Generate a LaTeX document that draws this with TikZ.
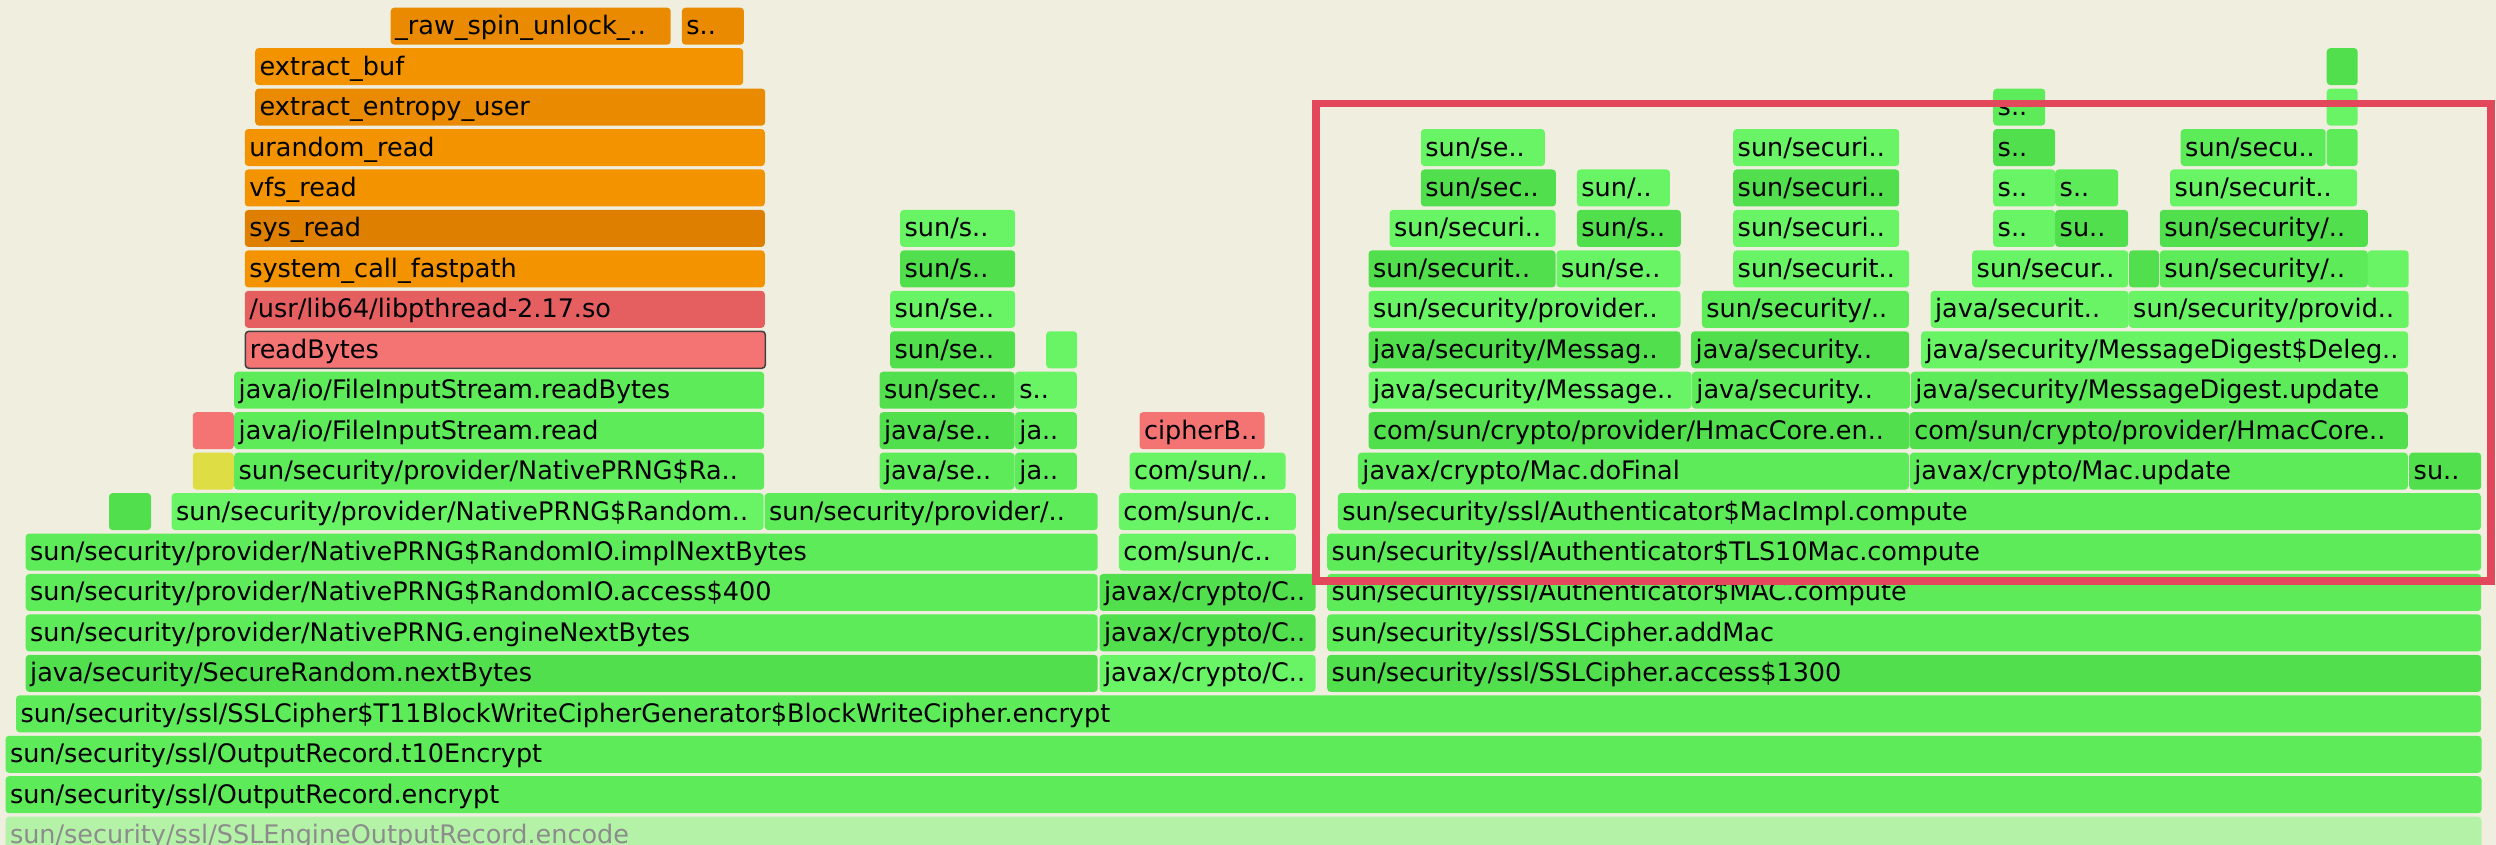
\documentclass[tikz,border=0pt]{standalone}
\usepackage{fontspec}
\setmainfont{DejaVu Sans}
\usepackage{tikz}
\definecolor{bgcol}{HTML}{F0EFDF}
\definecolor{gA}{HTML}{5EEB59}
\definecolor{gB}{HTML}{52DF4D}
\definecolor{gC}{HTML}{69F465}
\definecolor{gL}{HTML}{B4F3A7}
\definecolor{oA}{HTML}{F39300}
\definecolor{oB}{HTML}{E98A00}
\definecolor{oC}{HTML}{DF7F00}
\definecolor{rA}{HTML}{E55F60}
\definecolor{rB}{HTML}{F47474}
\definecolor{yA}{HTML}{DFDD44}
\definecolor{hilite}{HTML}{E2475B}
\newcommand\flamefont{\fontsize{25.5}{27}\selectfont}

\begin{document}
\begin{tikzpicture}[x=1pt,y=40.45pt,
  fr/.style={rectangle,rounded corners=3.5pt,anchor=west,minimum height=37pt,inner xsep=4.5pt,inner ysep=0pt,text height=21pt,text depth=4pt,align=left,font=\flamefont,fill=#1},
  wd/.code={\pgfmathsetmacro\frw{#1-9}\tikzset{minimum width=#1pt,text width=\frw pt}},
  hl/.style={draw=hilite,line width=7.5pt}]
\fill[bgcol] (0,-0.24227) rectangle (2496,20.6477);
\useasboundingbox (0,-0.24227) rectangle (2496,20.6477);
% bottom rows
\node[fr=gL,wd=2476,text=black!45] (r0a) at (5.3,0) {sun/security/ssl/SSLEngineOutputRecord.encode};
\node[fr=gA,wd=2476] (r1a) at (5.3,1) {sun/security/ssl/OutputRecord.encrypt};
\node[fr=gA,wd=2476] (r2a) at (5.3,2) {sun/security/ssl/OutputRecord.t10Encrypt};
\node[fr=gA,wd=2465] (r3a) at (15.9,3) {sun/security/ssl/SSLCipher\$T11BlockWriteCipherGenerator\$BlockWriteCipher.encrypt};
\node[fr=gB,wd=1072] (r4a) at (25.5,4) {java/security/SecureRandom.nextBytes};
\node[fr=gC,wd=216] (r4b) at (1099.3,4) {javax/crypto/C..};
\node[fr=gB,wd=1154] (r4c) at (1327,4) {sun/security/ssl/SSLCipher.access\$1300};
\node[fr=gA,wd=1072] (r5a) at (25.5,5) {sun/security/provider/NativePRNG.engineNextBytes};
\node[fr=gB,wd=216] (r5b) at (1099.3,5) {javax/crypto/C..};
\node[fr=gA,wd=1154] (r5c) at (1327,5) {sun/security/ssl/SSLCipher.addMac};
\node[fr=gA,wd=1072] (r6a) at (25.5,6) {sun/security/provider/NativePRNG\$RandomIO.access\$400};
\node[fr=gB,wd=216] (r6b) at (1099.3,6) {javax/crypto/C..};
\node[fr=gA,wd=1154] (r6c) at (1327,6) {sun/security/ssl/Authenticator\$MAC.compute};
\node[fr=gA,wd=1072] (r7a) at (25.5,7) {sun/security/provider/NativePRNG\$RandomIO.implNextBytes};
\node[fr=gC,wd=177] (r7b) at (1118.7,7) {com/sun/c..};
\node[fr=gA,wd=1154] (r7c) at (1327,7) {sun/security/ssl/Authenticator\$TLS10Mac.compute};
\node[fr=gB,wd=42] (r8a) at (108.8,8) {};
\node[fr=gC,wd=592] (r8b) at (171.4,8) {sun/security/provider/NativePRNG\$Random..};
\node[fr=gA,wd=333] (r8c) at (764.5,8) {sun/security/provider/..};
\node[fr=gC,wd=177] (r8d) at (1118.7,8) {com/sun/c..};
\node[fr=gA,wd=1143] (r8e) at (1337.7,8) {sun/security/ssl/Authenticator\$MacImpl.compute};
% middle rows
\node[fr=yA,wd=41] (r9a) at (192.6,9) {};
\node[fr=gA,wd=530] (r9b) at (234,9) {sun/security/provider/NativePRNG\$Ra..};
\node[fr=gA,wd=135] (r9c) at (879.3,9) {java/se..};
\node[fr=gA,wd=62] (r9d) at (1014.7,9) {ja..};
\node[fr=gC,wd=156] (r9e) at (1129.3,9) {com/sun/..};
\node[fr=gA,wd=551] (r9f) at (1357.7,9) {javax/crypto/Mac.doFinal};
\node[fr=gA,wd=498] (r9g) at (1909.6,9) {javax/crypto/Mac.update};
\node[fr=gB,wd=72] (r9h) at (2409,9) {su..};
\node[fr=rB,wd=41] (r10a) at (192.6,10) {};
\node[fr=gA,wd=530] (r10b) at (234,10) {java/io/FileInputStream.read};
\node[fr=gB,wd=135] (r10c) at (879.3,10) {java/se..};
\node[fr=gA,wd=62] (r10d) at (1014.7,10) {ja..};
\node[fr=rB,wd=125] (r10e) at (1139.3,10) {cipherB..};
\node[fr=gB,wd=541] (r10f) at (1368.3,10) {com/sun/crypto/provider/HmacCore.en..};
\node[fr=gB,wd=498] (r10g) at (1909.6,10) {com/sun/crypto/provider/HmacCore..};
\node[fr=gA,wd=530] (r11a) at (234,11) {java/io/FileInputStream.readBytes};
\node[fr=gB,wd=135] (r11b) at (879.3,11) {sun/sec..};
\node[fr=gC,wd=62] (r11c) at (1014.7,11) {s..};
\node[fr=gC,wd=323] (r11d) at (1368.3,11) {java/security/Message..};
\node[fr=gA,wd=218] (r11e) at (1691.7,11) {java/security..};
\node[fr=gA,wd=497] (r11f) at (1910.6,11) {java/security/MessageDigest.update};
\node[fr=rB,wd=520,draw=black!75,line width=1.5pt] (r12a) at (244.6,12) {readBytes};
\node[fr=gB,wd=125] (r12b) at (890,12) {sun/se..};
\node[fr=gC,wd=31] (r12c) at (1046,12) {};
\node[fr=gB,wd=312] (r12d) at (1368.3,12) {java/security/Messag..};
\node[fr=gB,wd=218] (r12e) at (1691,12) {java/security..};
\node[fr=gC,wd=487] (r12f) at (1920.9,12) {java/security/MessageDigest\$Deleg..};
\node[fr=rA,wd=520] (r13a) at (244.6,13) {/usr/lib64/libpthread-2.17.so};
\node[fr=gC,wd=125] (r13b) at (890,13) {sun/se..};
\node[fr=gC,wd=312] (r13c) at (1368.3,13) {sun/security/provider..};
\node[fr=gA,wd=207] (r13d) at (1701.7,13) {sun/security/..};
\node[fr=gC,wd=198] (r13e) at (1930.4,13) {java/securit..};
\node[fr=gC,wd=280] (r13f) at (2128.5,13) {sun/security/provid..};
% top rows
\node[fr=oA,wd=520] (r14a) at (244.6,14) {system\_call\_fastpath};
\node[fr=gB,wd=115] (r14b) at (900,14) {sun/s..};
\node[fr=gB,wd=187] (r14c) at (1368.3,14) {sun/securit..};
\node[fr=gC,wd=124] (r14d) at (1556.3,14) {sun/se..};
\node[fr=gC,wd=176] (r14e) at (1733,14) {sun/securit..};
\node[fr=gC,wd=156] (r14f) at (1972,14) {sun/secur..};
\node[fr=gB,wd=30] (r14g) at (2128.8,14) {};
\node[fr=gA,wd=208] (r14h) at (2159.6,14) {sun/security/..};
\node[fr=gC,wd=41] (r14i) at (2367.5,14) {};
\node[fr=oC,wd=520] (r15a) at (244.6,15) {sys\_read};
\node[fr=gC,wd=115] (r15b) at (900,15) {sun/s..};
\node[fr=gC,wd=166] (r15c) at (1389.3,15) {sun/securi..};
\node[fr=gB,wd=104] (r15d) at (1576.7,15) {sun/s..};
\node[fr=gC,wd=166] (r15e) at (1733,15) {sun/securi..};
\node[fr=gC,wd=62] (r15f) at (1993,15) {s..};
\node[fr=gB,wd=73] (r15g) at (2055,15) {su..};
\node[fr=gB,wd=208] (r15h) at (2159.6,15) {sun/security/..};
\node[fr=oA,wd=520] (r16a) at (244.6,16) {vfs\_read};
\node[fr=gB,wd=135] (r16b) at (1420.7,16) {sun/sec..};
\node[fr=gC,wd=93] (r16c) at (1576.7,16) {sun/..};
\node[fr=gB,wd=166] (r16d) at (1733,16) {sun/securi..};
\node[fr=gC,wd=62] (r16e) at (1993,16) {s..};
\node[fr=gA,wd=63] (r16f) at (2055,16) {s..};
\node[fr=gC,wd=187] (r16g) at (2169.9,16) {sun/securit..};
\node[fr=oA,wd=520] (r17a) at (244.6,17) {urandom\_read};
\node[fr=gC,wd=124] (r17b) at (1420.7,17) {sun/se..};
\node[fr=gC,wd=166] (r17c) at (1733,17) {sun/securi..};
\node[fr=gB,wd=62] (r17d) at (1993,17) {s..};
\node[fr=gA,wd=145] (r17e) at (2180.5,17) {sun/secu..};
\node[fr=gA,wd=31] (r17f) at (2326.5,17) {};
\node[fr=oB,wd=510] (r18a) at (255,18) {extract\_entropy\_user};
\node[fr=gA,wd=52] (r18b) at (1993,18) {s..};
\node[fr=gC,wd=31] (r18c) at (2326.5,18) {};
\node[fr=oA,wd=488] (r19a) at (255,19) {extract\_buf};
\node[fr=gB,wd=31] (r19b) at (2326.5,19) {};
\node[fr=oB,wd=280] (r20a) at (390.5,20) {\_raw\_spin\_unlock\_..};
\node[fr=oB,wd=62] (r20b) at (681.7,20) {s..};
% highlight frame
\draw[hl] (1316,6.284) rectangle (2491,18.089);
\end{tikzpicture}
\end{document}
